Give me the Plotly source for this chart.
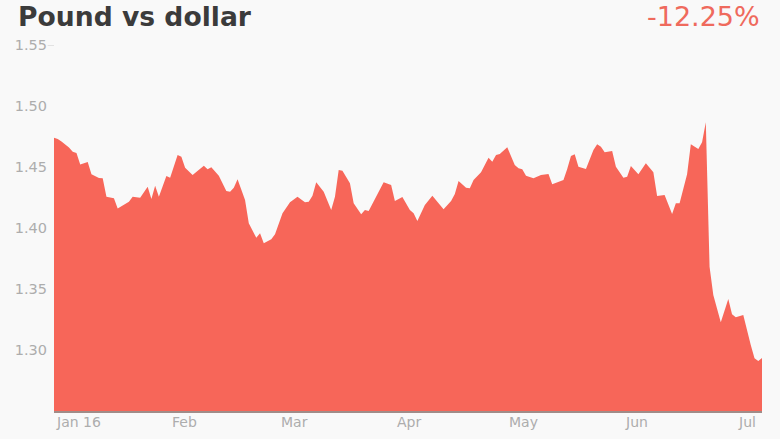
import plotly.graph_objects as go

dates = [
    "2016-01-01", "2016-01-02", "2016-01-03", "2016-01-05", "2016-01-06", "2016-01-07",
    "2016-01-08", "2016-01-10", "2016-01-11", "2016-01-13", "2016-01-14", "2016-01-15",
    "2016-01-17", "2016-01-18", "2016-01-21", "2016-01-22", "2016-01-24", "2016-01-26",
    "2016-01-27", "2016-01-28", "2016-01-29", "2016-01-31", "2016-02-01", "2016-02-03",
    "2016-02-04", "2016-02-05", "2016-02-07", "2016-02-10", "2016-02-11", "2016-02-12",
    "2016-02-14", "2016-02-16", "2016-02-17", "2016-02-18", "2016-02-19", "2016-02-21",
    "2016-02-22", "2016-02-24", "2016-02-25", "2016-02-26", "2016-02-28", "2016-02-29",
    "2016-03-02", "2016-03-04", "2016-03-06", "2016-03-08", "2016-03-09", "2016-03-10",
    "2016-03-11", "2016-03-13", "2016-03-15", "2016-03-16", "2016-03-17", "2016-03-18",
    "2016-03-20", "2016-03-21", "2016-03-23", "2016-03-24", "2016-03-25", "2016-03-27",
    "2016-03-29", "2016-03-31", "2016-04-01", "2016-04-03", "2016-04-05", "2016-04-06",
    "2016-04-07", "2016-04-09", "2016-04-11", "2016-04-14", "2016-04-16", "2016-04-17",
    "2016-04-18", "2016-04-20", "2016-04-21", "2016-04-22", "2016-04-24", "2016-04-26",
    "2016-04-27", "2016-04-28", "2016-04-29", "2016-05-01", "2016-05-03", "2016-05-04",
    "2016-05-05", "2016-05-06", "2016-05-08", "2016-05-10", "2016-05-12", "2016-05-13",
    "2016-05-16", "2016-05-17", "2016-05-18", "2016-05-19", "2016-05-20", "2016-05-22",
    "2016-05-24", "2016-05-25", "2016-05-26", "2016-05-27", "2016-05-29", "2016-05-30",
    "2016-06-01", "2016-06-02", "2016-06-03", "2016-06-05", "2016-06-07", "2016-06-09",
    "2016-06-10", "2016-06-12", "2016-06-14", "2016-06-15", "2016-06-16", "2016-06-18",
    "2016-06-19", "2016-06-21", "2016-06-22", "2016-06-23", "2016-06-24", "2016-06-25",
    "2016-06-27", "2016-06-29", "2016-06-30", "2016-07-01", "2016-07-03", "2016-07-05",
    "2016-07-06", "2016-07-07", "2016-07-08",
]

rates = [
    1.474, 1.473, 1.471, 1.466, 1.4625, 1.4615,
    1.452, 1.454, 1.444, 1.441, 1.4407, 1.4257,
    1.4243, 1.416, 1.4216, 1.4257, 1.4248, 1.4339,
    1.4238, 1.4347, 1.4257, 1.4426, 1.4412, 1.4598,
    1.4584, 1.4494, 1.4434, 1.4511, 1.4481, 1.4498,
    1.4429, 1.4303, 1.4298, 1.433, 1.4399, 1.423,
    1.4039, 1.392, 1.3957, 1.3875, 1.3907, 1.3948,
    1.412, 1.4211, 1.4257, 1.4211, 1.4216, 1.4265,
    1.4375, 1.4298, 1.4148, 1.4257, 1.4475, 1.447,
    1.4366, 1.4202, 1.4112, 1.4148, 1.4139, 1.4257,
    1.4375, 1.4352, 1.4221, 1.4254, 1.4148, 1.412,
    1.4057, 1.4189, 1.4265, 1.4153, 1.4221, 1.4279,
    1.4385, 1.433, 1.4325, 1.4393, 1.4457, 1.4576,
    1.4543, 1.4598, 1.4607, 1.4661, 1.4516, 1.4489,
    1.4481, 1.4429, 1.4407, 1.4434, 1.4443, 1.4358,
    1.4393, 1.4484, 1.459, 1.4604, 1.4502, 1.4484,
    1.4639, 1.4686, 1.4666, 1.462, 1.4631, 1.4502,
    1.4412, 1.442, 1.4508, 1.444, 1.453, 1.4457,
    1.4262, 1.427, 1.4115, 1.4202, 1.4202, 1.444,
    1.4686, 1.4648, 1.4702, 1.4866, 1.3683, 1.3451,
    1.3227, 1.3418, 1.3293, 1.3268, 1.3287, 1.3041,
    1.2932, 1.291, 1.2934,
]

y_ticks = [1.30, 1.35, 1.40, 1.45, 1.50, 1.55]
y_tick_labels = ["1.30", "1.35", "1.40", "1.45", "1.50", "1.55"]
x_tick_dates = ["2016-01-01", "2016-02-01", "2016-03-01", "2016-04-01",
                "2016-05-01", "2016-06-01", "2016-07-01"]
x_tick_labels = ["Jan 16", "Feb", "Mar", "Apr", "May", "Jun", "Jul"]

title_text = "Pound vs dollar"
change_text = "-12.25%"

BG = "#f9f9f9"
FILL = "#f76659"
TICK_COLOR = "#adadad"
FONT = "DejaVu Sans"

fig = go.Figure()
fig.add_trace(go.Scatter(
    x=dates, y=rates, mode="lines", fill="tozeroy",
    fillcolor=FILL, line=dict(width=0, color=FILL),
    hoverinfo="x+y", showlegend=False,
))

annotations = [
    dict(text="<b>" + title_text + "</b>", xref="paper", yref="paper",
         x=-0.0536, y=1.078, xanchor="left", yanchor="middle", showarrow=False,
         font=dict(family=FONT, size=26.6, color="#3b3b3b")),
    dict(text=change_text, xref="paper", yref="paper",
         x=1.0, y=1.078, xanchor="right", yanchor="middle", showarrow=False,
         font=dict(family=FONT, size=27, color="#ef6a5d")),
]
for d, lab in zip(x_tick_dates, x_tick_labels):
    annotations.append(dict(
        text=lab, x=d, xref="x", y=-0.031, yref="paper",
        xanchor="left", yanchor="middle", showarrow=False,
        font=dict(family=FONT, size=14, color=TICK_COLOR),
    ))

fig.update_layout(
    width=780, height=439,
    margin=dict(l=54, r=18, t=45, b=28),
    paper_bgcolor=BG, plot_bgcolor=BG,
    font=dict(family=FONT, size=14, color=TICK_COLOR),
    annotations=annotations,
    shapes=[dict(type="line", xref="paper", yref="y", x0=-0.009, x1=0.0,
                 y0=1.55, y1=1.55, line=dict(color="#cccccc", width=1))],
    xaxis=dict(
        type="date", range=["2016-01-01", "2016-07-08"],
        showgrid=False, zeroline=False, showticklabels=False, ticks="",
        showline=True, linecolor="#a08c88", linewidth=1.5,
    ),
    yaxis=dict(
        range=[1.25, 1.55], tickvals=y_ticks, ticktext=y_tick_labels,
        showgrid=False, zeroline=False, ticks="", showline=False,
        ticklabelstandoff=6,
        tickfont=dict(family=FONT, size=14.5, color=TICK_COLOR),
    ),
)

fig.write_html(
    "out.html",
    config={"displayModeBar": False},
    post_script="document.body.style.margin='0';document.body.style.background='" + BG + "';",
)
